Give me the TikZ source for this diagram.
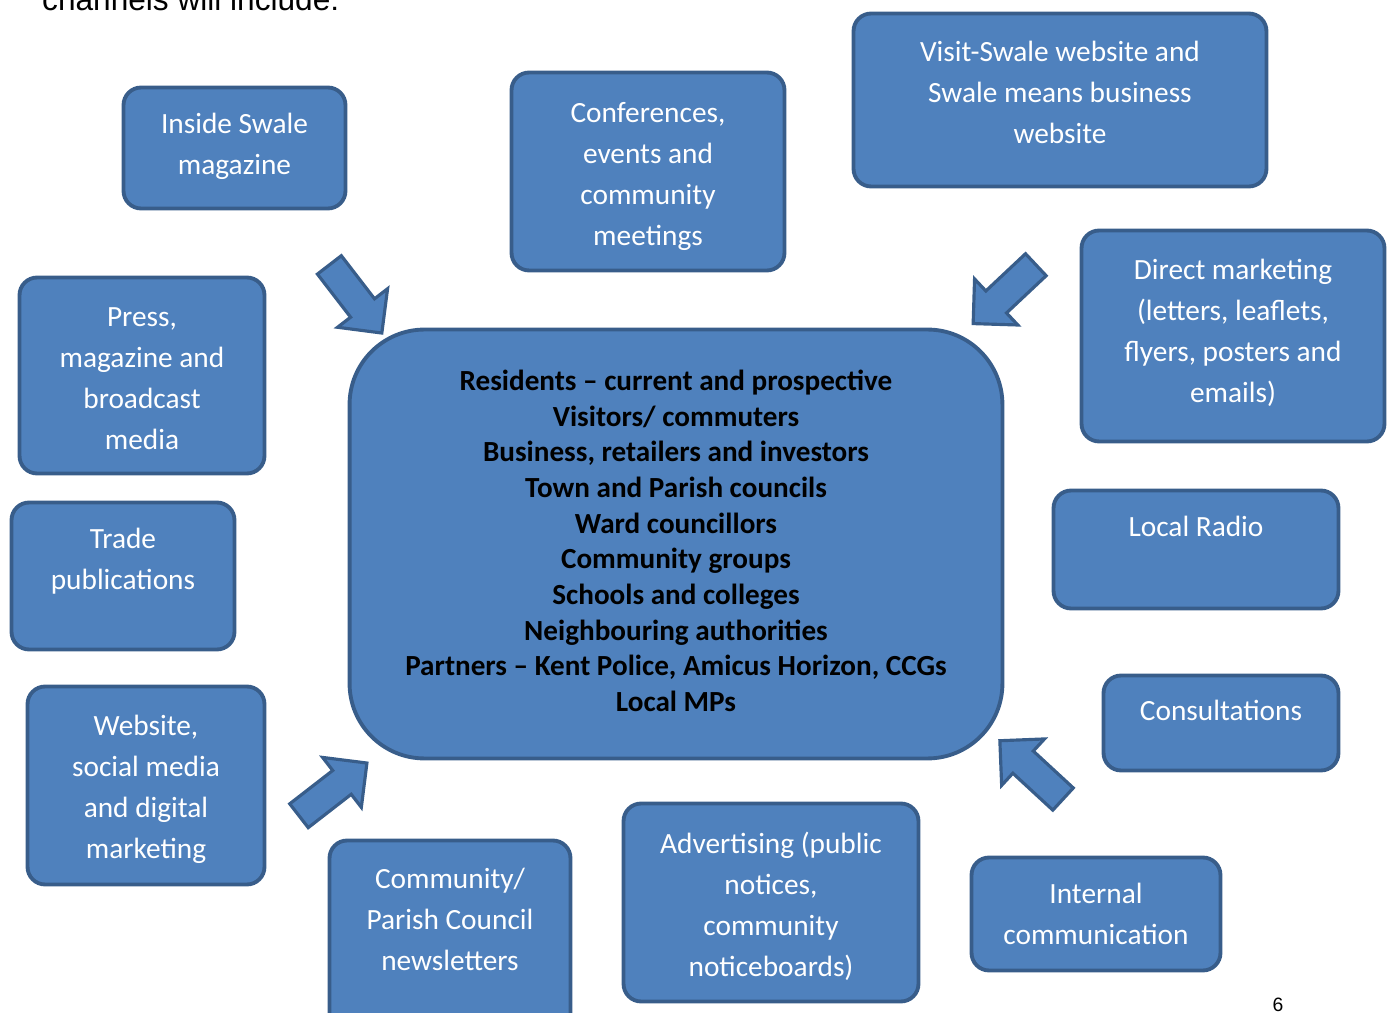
\documentclass[tikz,border=0pt]{standalone}
\usepackage{fontspec}
\setmainfont{Carlito}
\newfontfamily\arialfont{Liberation Sans}
\usetikzlibrary{shapes.arrows}
\definecolor{swaleblue}{RGB}{79,129,189}
\definecolor{swaleborder}{RGB}{56,93,138}
\tikzset{
    % Channel boxes round the audience box
    channel/.style={
        rectangle, rounded corners=10pt, draw=swaleborder, fill=swaleblue,
        line width=2.2pt, inner sep=0pt
    },
    channeltext/.style={
        align=center, text=white, font=\fontsize{16.7}{23.3}\selectfont
    },
    % Central audience box
    audience/.style={channel, rounded corners=1.5cm},
    audiencetext/.style={
        align=center, text=black, font=\fontsize{16.6}{20.3}\selectfont\bfseries
    },
    % Block arrows pointing at the audience
    blockarrow/.style={
        single arrow, draw=swaleborder, fill=swaleblue, line width=1.8pt,
        minimum height=1.72cm, inner xsep=0pt, inner ysep=0.27cm,
        single arrow head extend=0.33cm
    },
}

\begin{document}
\begin{tikzpicture}[x=0.02cm,y=-0.02cm]
      \useasboundingbox (0,0) rectangle (1394,1013);
      \clip (0,0) rectangle (1394,1013);
      \node[anchor=base west,font=\arialfont\fontsize{18}{21}\selectfont] (intro) at (36,11) {channels will include:};
      % channel boxes
      \node[channel,minimum width=4.44cm,minimum height=2.42cm] (inside) at (234.5,148) {};
      \node[channel,minimum width=5.46cm,minimum height=3.96cm] (conf) at (648,171.5) {};
      \node[channel,minimum width=8.26cm,minimum height=3.46cm] (visit) at (1060,100) {};
      \node[channel,minimum width=4.90cm,minimum height=3.92cm] (press) at (142,375.5) {};
      \node[channel,minimum width=6.06cm,minimum height=4.22cm] (direct) at (1233,336) {};
      \node[channel,minimum width=4.46cm,minimum height=2.94cm] (trade) at (123,576) {};
      \node[channel,minimum width=5.70cm,minimum height=2.36cm] (radio) at (1196,549.5) {};
      \node[channel,minimum width=4.74cm,minimum height=3.96cm] (web) at (146,785.5) {};
      \node[channel,minimum width=4.70cm,minimum height=1.90cm] (consult) at (1221,723) {};
      \node[channel,minimum width=4.82cm,minimum height=3.96cm] (parish) at (450,939.5) {};
      \node[channel,minimum width=5.90cm,minimum height=3.96cm] (advert) at (771,902.5) {};
      \node[channel,minimum width=4.98cm,minimum height=2.26cm] (internal) at (1096,914) {};
      \node[audience,minimum width=13.06cm,minimum height=8.58cm] (aud) at (676,544) {};
      % box texts
      \node[channeltext] (insidetxt) at (234.5,146.5) {Inside Swale\\magazine};
      \node[channeltext] (conftxt) at (648,176.5) {Conferences,\\events and\\community\\meetings};
      \node[channeltext] (visittxt) at (1060,92.5) {Visit-Swale website and\\Swale means business\\website};
      \node[channeltext] (presstxt) at (142,379) {Press,\\magazine and\\broadcast\\media};
      \node[channeltext] (directtxt) at (1233,333) {Direct marketing\\(letters, leaflets,\\flyers, posters and\\emails)};
      \node[channeltext] (tradetxt) at (123,561.5) {Trade\\publications};
      \node[channeltext] (radiotxt) at (1196,526) {Local Radio};
      \node[channeltext] (webtxt) at (146,789) {Website,\\social media\\and digital\\marketing};
      \node[channeltext] (consulttxt) at (1221,710) {Consultations};
      \node[channeltext] (parishtxt) at (450,919.5) {Community/\\Parish Council\\newsletters};
      \node[channeltext] (adverttxt) at (771,906) {Advertising (public\\notices,\\community\\noticeboards)};
      \node[channeltext] (internaltxt) at (1096,913.5) {Internal\\communication};
      \node[audiencetext] (audtxt) at (676,541) {Residents -- current and prospective\\Visitors/ commuters\\Business, retailers and investors\\Town and Parish councils\\Ward councillors\\Community groups\\Schools and colleges\\Neighbouring authorities\\Partners -- Kent Police, Amicus Horizon, CCGs\\Local MPs};
      % arrows towards the audience
      \node[blockarrow,rotate=-52.4] (arrownw) at (351,293) {};
      \node[blockarrow,rotate=-136.8] (arrowne) at (1010,289) {};
      \node[blockarrow,rotate=37.8] (arrowsw) at (327,794) {};
      \node[blockarrow,rotate=137.3] (arrowse) at (1037,775) {};
      \node[anchor=base,font=\arialfont\fontsize{11}{13}\selectfont] (pagenum) at (1278,1011) {6};
    \end{tikzpicture}
\end{document}
